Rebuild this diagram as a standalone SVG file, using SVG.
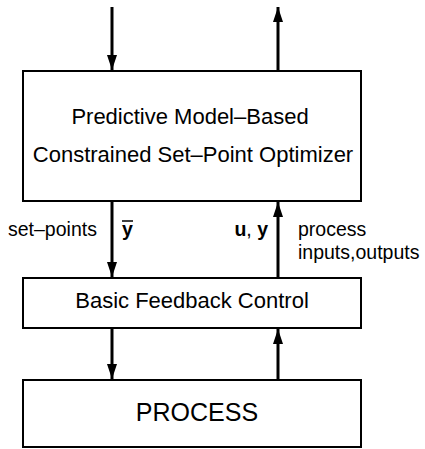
<svg xmlns="http://www.w3.org/2000/svg" width="425" height="449" viewBox="0 0 425 449">
<style>
.box{fill:#fff;stroke:#000;stroke-width:2}
.t{font-family:"Liberation Sans",Arial,sans-serif;fill:#000}
.c{stroke:#000;stroke-width:3;fill:none}
</style>
<defs>
<marker id="a" viewBox="0 0 15 10" refX="15" refY="5" markerUnits="userSpaceOnUse" markerWidth="15" markerHeight="10" orient="auto">
<path d="M0,0 L15,5 L0,10 Z" fill="#000"/>
</marker>
</defs>
<rect width="425" height="449" fill="#fff"/>
<g id="optimizer">
<rect class="box" x="23" y="71" width="338" height="130"/>
<text class="t" x="190" y="124" font-size="22" text-anchor="middle">Predictive Model–Based</text>
<text class="t" x="193" y="162" font-size="22" text-anchor="middle">Constrained Set–Point Optimizer</text>
</g>
<g id="bfc">
<rect class="box" x="23" y="278" width="338" height="50"/>
<text class="t" x="192" y="308" font-size="22" text-anchor="middle">Basic Feedback Control</text>
</g>
<g id="process">
<rect class="box" x="23" y="380" width="338" height="67"/>
<text class="t" x="197" y="421" font-size="25" text-anchor="middle">PROCESS</text>
</g>
<g id="connectors">
<line class="c" x1="112" y1="7" x2="112" y2="70" marker-end="url(#a)"/>
<line class="c" x1="278" y1="71" x2="278" y2="7" marker-end="url(#a)"/>
<line class="c" x1="112" y1="201" x2="112" y2="277" marker-end="url(#a)"/>
<line class="c" x1="278" y1="278" x2="278" y2="202" marker-end="url(#a)"/>
<line class="c" x1="112" y1="328" x2="112" y2="379" marker-end="url(#a)"/>
<line class="c" x1="278" y1="380" x2="278" y2="329" marker-end="url(#a)"/>
</g>
<g id="labels">
<text class="t" x="8" y="236" font-size="19.5">set–points</text>
<text class="t" x="122" y="236" font-size="19.5" font-weight="bold">y</text>
<line x1="122" y1="221" x2="133" y2="221" stroke="#000" stroke-width="1.5"/>
<text class="t" x="268" y="236" font-size="19.5" text-anchor="end"><tspan font-weight="bold">u</tspan>, <tspan font-weight="bold">y</tspan></text>
<text class="t" x="298" y="236" font-size="19.5">process</text>
<text class="t" x="298" y="259" font-size="19.5">inputs,outputs</text>
</g>
</svg>
